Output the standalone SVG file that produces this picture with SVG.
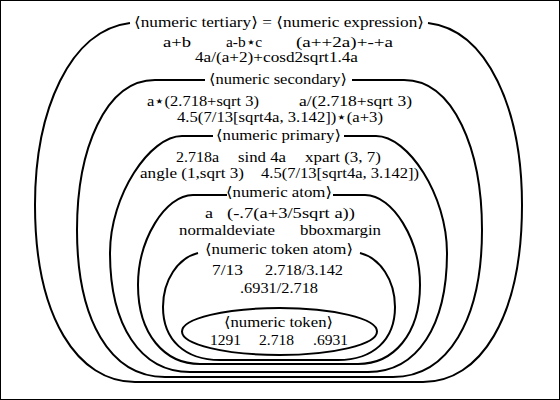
<svg xmlns="http://www.w3.org/2000/svg" width="560" height="400" viewBox="0 0 560 400">
<style>
text{font-family:'Liberation Serif','DejaVu Serif',serif;font-size:14.5px;fill:#000}
.c{fill:none;stroke:#000;stroke-width:2}
</style>
<rect x="0.5" y="0.5" width="559" height="399" fill="#fff" stroke="#000" stroke-width="1"/>
<g font-family="Liberation Serif, DejaVu Serif, serif" font-size="14.5">
<g id="tertiary">
<path class="c" d="M130,23 C70,30 35,110 35,205 C35,318 78,382 135,382 L423,382 C480,382 522,318 522,205 C522,110 488,30 428,23"/>
<text x="134" y="27" textLength="290" lengthAdjust="spacingAndGlyphs">⟨numeric tertiary⟩ = ⟨numeric expression⟩</text>
<text x="163" y="47" textLength="28" lengthAdjust="spacingAndGlyphs">a+b</text>
<text x="226" y="47" textLength="36" lengthAdjust="spacingAndGlyphs">a-b⋆c</text>
<text x="296" y="47" textLength="97" lengthAdjust="spacingAndGlyphs">(a++2a)+-+a</text>
<text x="195" y="62" textLength="163" lengthAdjust="spacingAndGlyphs">4a/(a+2)+cosd2sqrt1.4a</text>
</g>
<g id="secondary">
<path class="c" d="M205,80 L155,80 C105,80 77,150 77,230 C77,320 110,377 165,377 L393,377 C448,377 482,320 482,230 C482,150 454,80 404,80 L352,80"/>
<text x="209" y="84" textLength="138" lengthAdjust="spacingAndGlyphs">⟨numeric secondary⟩</text>
<text x="147" y="106" textLength="112" lengthAdjust="spacingAndGlyphs">a⋆(2.718+sqrt 3)</text>
<text x="299" y="106" textLength="113" lengthAdjust="spacingAndGlyphs">a/(2.718+sqrt 3)</text>
<text x="177" y="122" textLength="206" lengthAdjust="spacingAndGlyphs">4.5(7/13[sqrt4a, 3.142])⋆(a+3)</text>
</g>
<g id="primary">
<path class="c" d="M213,136 L182,136 C150,136 110,195 110,253 C110,325 140,372 190,372 L368,372 C418,372 447,325 447,253 C447,195 408,136 376,136 L344,136"/>
<text x="216" y="140" textLength="125" lengthAdjust="spacingAndGlyphs">⟨numeric primary⟩</text>
<text x="176" y="162" textLength="43" lengthAdjust="spacingAndGlyphs">2.718a</text>
<text x="238" y="162" textLength="48" lengthAdjust="spacingAndGlyphs">sind 4a</text>
<text x="305" y="162" textLength="76" lengthAdjust="spacingAndGlyphs">xpart (3, 7)</text>
<text x="140" y="178" textLength="104" lengthAdjust="spacingAndGlyphs">angle (1,sqrt 3)</text>
<text x="261" y="178" textLength="158" lengthAdjust="spacingAndGlyphs">4.5(7/13[sqrt4a, 3.142])</text>
</g>
<g id="atom">
<path class="c" d="M227,195 L193,195 C165,195 138,240 138,285 C138,335 165,364 200,364 L358,364 C393,364 420,335 420,285 C420,240 393,195 365,195 L333,195"/>
<text x="226" y="197" textLength="106" lengthAdjust="spacingAndGlyphs">⟨numeric atom⟩</text>
<text x="205" y="218" textLength="8" lengthAdjust="spacingAndGlyphs">a</text>
<text x="227" y="218" textLength="128" lengthAdjust="spacingAndGlyphs">(-.7(a+3/5sqrt a))</text>
<text x="179" y="235" textLength="96" lengthAdjust="spacingAndGlyphs">normaldeviate</text>
<text x="300" y="235" textLength="81" lengthAdjust="spacingAndGlyphs">bboxmargin</text>
</g>
<g id="token-atom">
<path class="c" d="M198,253 C178,258 163,280 163,307 C163,340 185,360 220,360 L338,360 C373,360 395,340 395,307 C395,280 380,258 360,253"/>
<text x="205" y="254" textLength="148" lengthAdjust="spacingAndGlyphs">⟨numeric token atom⟩</text>
<text x="212" y="275" textLength="31" lengthAdjust="spacingAndGlyphs">7/13</text>
<text x="265" y="275" textLength="78" lengthAdjust="spacingAndGlyphs">2.718/3.142</text>
<text x="240" y="293" textLength="78" lengthAdjust="spacingAndGlyphs">.6931/2.718</text>
</g>
<g id="token">
<ellipse class="c" cx="279.5" cy="331.5" rx="97.5" ry="23.5"/>
<text x="224" y="327" textLength="109" lengthAdjust="spacingAndGlyphs">⟨numeric token⟩</text>
<text x="210" y="345" textLength="31" lengthAdjust="spacingAndGlyphs">1291</text>
<text x="259" y="345" textLength="35" lengthAdjust="spacingAndGlyphs">2.718</text>
<text x="313" y="345" textLength="35" lengthAdjust="spacingAndGlyphs">.6931</text>
</g>
</g>
</svg>
